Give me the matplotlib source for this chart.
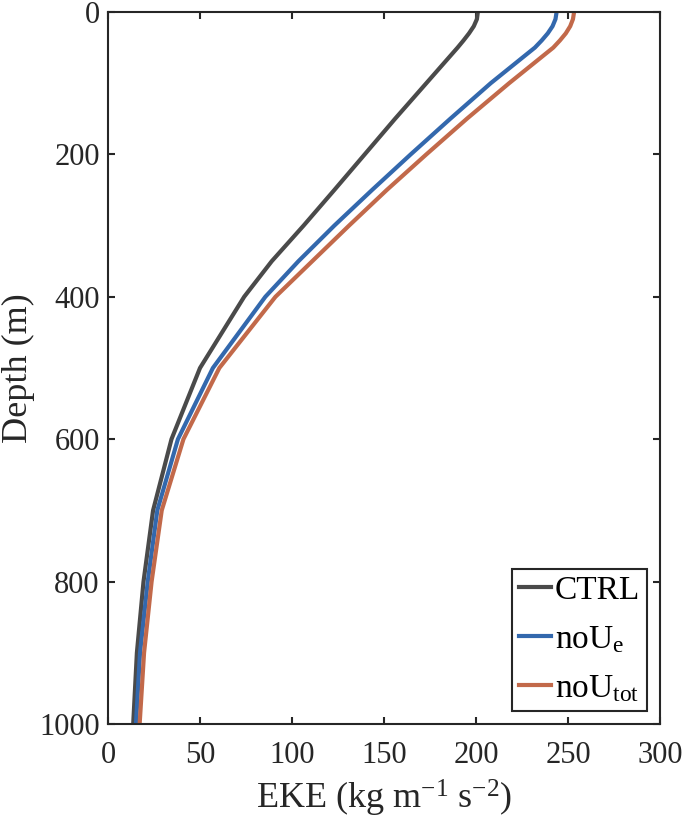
import matplotlib
matplotlib.use('Agg')
import matplotlib.pyplot as plt
import numpy as np

plt.rcParams['font.family'] = ['Liberation Serif', 'DejaVu Serif']
plt.rcParams['mathtext.fontset'] = 'custom'
plt.rcParams['mathtext.rm'] = 'Liberation Serif'
plt.rcParams['mathtext.it'] = 'Liberation Serif:italic'
plt.rcParams['font.size'] = 22

#### ---------------- data
depth = [0, 10, 20, 30, 40, 50, 100, 150, 200, 250, 300, 350, 400,
         500, 600, 700, 800, 900, 1000]
ctrl = [201, 200.5, 198.8, 196.2, 193.2, 190, 173, 156, 139.5, 123, 106.3, 89, 74,
        50, 34.5, 24.5, 19.3, 15.7, 13.7]
noUe = [243.8, 243.2, 241.6, 239, 235.7, 232, 208, 186, 164.5, 143.5, 123, 103.5, 85.5,
        57, 38, 26.8, 21.6, 17.4, 15.2]
noUtot = [253.3, 252.7, 251.2, 248.8, 245.6, 242, 218, 195, 173, 151.5, 131, 111, 91,
          60.5, 41, 29.2, 23.7, 19.6, 17.2]

labels = ['CTRL', 'noU$_\\mathrm{e}$', 'noU$_\\mathrm{tot}$']
colors = ['#4a4a4a', '#3368ad', '#c2694a']

#### ---------------- plot
fig = plt.figure(figsize=(6.85, 8.26), dpi=100)
ax = fig.add_axes([108/685, 102/826, 552/685, 712/826])

for vals, lab, c in zip([ctrl, noUe, noUtot], labels, colors):
    ax.plot(vals, depth, '-', color=c, lw=3.0, label=lab, solid_joinstyle='round')

ax.set_xlim(0, 300)
ax.set_ylim(1000, 0)
ax.set_xticks(np.arange(0, 301, 50))
ax.set_yticks(np.arange(0, 1001, 200))
ax.tick_params(direction='in', length=5, width=1.5, top=True, right=True,
               colors='#262626', labelcolor='#262626')
ax.tick_params(axis='x', pad=12)
ax.tick_params(axis='y', pad=6)
for s in ax.spines.values():
    s.set_linewidth(1.5)
    s.set_color('#262626')

ax.set_xlabel('EKE (kg m$^{-1}$ s$^{-2}$)', color='#262626', fontsize=26, labelpad=6)
ax.set_ylabel('Depth (m)', color='#262626', fontsize=26, labelpad=3)

leg = ax.legend(loc='lower right', fontsize=24, handlelength=0.95, handletextpad=0.12,
                borderaxespad=0.4, borderpad=0.2, labelspacing=0.55,
                fancybox=False, framealpha=1, edgecolor='#262626')
leg.get_frame().set_linewidth(1.5)

fig.savefig('out.png', dpi=100)
